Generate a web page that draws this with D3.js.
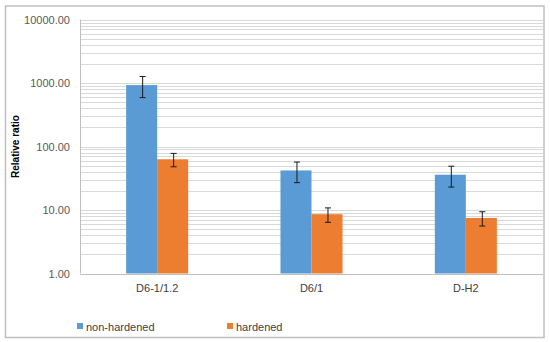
<!DOCTYPE html>
<html>
<head>
<meta charset="utf-8">
<script src="https://cdn.jsdelivr.net/npm/d3@7"></script>
<style>
  html, body { margin: 0; padding: 0; background: #fff; }
  svg { display: block; }
  text { font-family: "Liberation Sans", Arial, sans-serif; }
</style>
</head>
<body>
<svg id="chart" width="550" height="342"></svg>
<script>
const categories = ["D6-1/1.2", "D6/1", "D-H2"];
const seriesNames = ["non-hardened", "hardened"];
const nonHardened = [930, 42, 36];
const hardened = [63, 8.6, 7.5];
const errNonHardened = [340, 15, 13];
const errHardened = [15, 2.2, 1.9];
const tickValues = [1, 10, 100, 1000, 10000];
const tickLabels = ["1.00", "10.00", "100.00", "1000.00", "10000.00"];
const colors = ["#5b9bd5", "#ed7d31"];

(function () {
const svg = d3.select("#chart");
const pLeft = 80, pRight = 543, pTop = 19.6, pBottom = 273.5;

// outer border
svg.append("rect").attr("x", 5.5).attr("y", 6).attr("width", 538.5).attr("height", 331.5)
  .attr("fill", "#fff").attr("stroke", "#bfbfbf").attr("stroke-width", 1.5);

const y = d3.scaleLog().domain([1, 10000]).range([pBottom, pTop]);
const x0 = d3.scaleBand().domain(categories).range([pLeft, pRight]).paddingInner(0.598).paddingOuter(0.299);
const x1 = d3.scaleBand().domain(seriesNames).range([0, x0.bandwidth()]);

// minor + major gridlines
const gridVals = [];
for (let k = 0; k < 4; k++) for (let m = 1; m <= 9; m++) gridVals.push(m * Math.pow(10, k));
gridVals.push(10000);
svg.append("g").selectAll("line").data(gridVals.filter(v => v > 1)).join("line")
  .attr("x1", pLeft).attr("x2", pRight)
  .attr("y1", d => Math.round(y(d)) + 0.5).attr("y2", d => Math.round(y(d)) + 0.5)
  .attr("stroke", "#d9d9d9").attr("stroke-width", 1);

// axes
const yAxis = d3.axisLeft(y).tickValues(tickValues).tickFormat((d, i) => tickLabels[i]).tickSize(0).tickPadding(10);
const gy = svg.append("g").attr("transform", `translate(${pLeft},0)`).call(yAxis);
gy.select(".domain").remove();
gy.selectAll("text").attr("font-size", 11).attr("fill", "#595959")
  .attr("font-family", "'Liberation Sans', Arial, sans-serif");

svg.append("line").attr("x1", pLeft + 0.5).attr("x2", pLeft + 0.5).attr("y1", pTop).attr("y2", pBottom)
  .attr("stroke", "#bfbfbf");

// bars
const data = categories.map((c, i) => ({
  cat: c,
  vals: [
    { s: seriesNames[0], v: nonHardened[i], e: errNonHardened[i] },
    { s: seriesNames[1], v: hardened[i], e: errHardened[i] }
  ]
}));

const groups = svg.append("g").selectAll("g").data(data).join("g")
  .attr("transform", d => `translate(${x0(d.cat)},0)`);

groups.selectAll("rect").data(d => d.vals).join("rect")
  .attr("x", d => x1(d.s)).attr("width", x1.bandwidth())
  .attr("y", d => y(d.v)).attr("height", d => y(1) - y(d.v))
  .attr("fill", (d, i) => colors[i]);

// error bars
const eb = groups.selectAll("g.err").data(d => d.vals).join("g").attr("class", "err");
const cx = d => Math.round(x1(d.s) + x1.bandwidth() / 2) + 0.5;
eb.append("line")
  .attr("x1", cx).attr("x2", cx)
  .attr("y1", d => y(d.v + d.e)).attr("y2", d => y(d.v - d.e))
  .attr("stroke", "#1a1a1a").attr("stroke-width", 1);
eb.append("line")
  .attr("x1", d => cx(d) - 3).attr("x2", d => cx(d) + 3)
  .attr("y1", d => y(d.v + d.e)).attr("y2", d => y(d.v + d.e))
  .attr("stroke", "#1a1a1a").attr("stroke-width", 1);
eb.append("line")
  .attr("x1", d => cx(d) - 3).attr("x2", d => cx(d) + 3)
  .attr("y1", d => y(d.v - d.e)).attr("y2", d => y(d.v - d.e))
  .attr("stroke", "#1a1a1a").attr("stroke-width", 1);

// bottom axis
svg.append("line").attr("x1", pLeft).attr("x2", pRight).attr("y1", Math.round(pBottom) + 0.5).attr("y2", Math.round(pBottom) + 0.5)
  .attr("stroke", "#bfbfbf");
const xAxis = d3.axisBottom(x0).tickSize(0).tickPadding(11);
const gx = svg.append("g").attr("transform", `translate(0,${pBottom})`).call(xAxis);
gx.select(".domain").remove();
gx.selectAll("text").attr("font-size", 11).attr("fill", "#404040")
  .attr("font-family", "'Liberation Sans', Arial, sans-serif");

// y title
svg.append("text").attr("transform", `translate(19,${(pTop + pBottom) / 2}) rotate(-90)`)
  .attr("text-anchor", "middle").attr("font-size", 10).attr("font-weight", "bold").attr("fill", "#000")
  .text("Relative ratio");

// legend
const legendX = [77, 227];
const lg = svg.append("g").selectAll("g").data(seriesNames).join("g")
  .attr("transform", (d, i) => `translate(${legendX[i]},323)`);
lg.append("rect").attr("width", 6).attr("height", 6).attr("fill", (d, i) => colors[i]);
lg.append("text").attr("x", 9).attr("y", 7.5).attr("font-size", 11).attr("fill", "#404040").text(d => d);
})();
</script>
</body>
</html>
